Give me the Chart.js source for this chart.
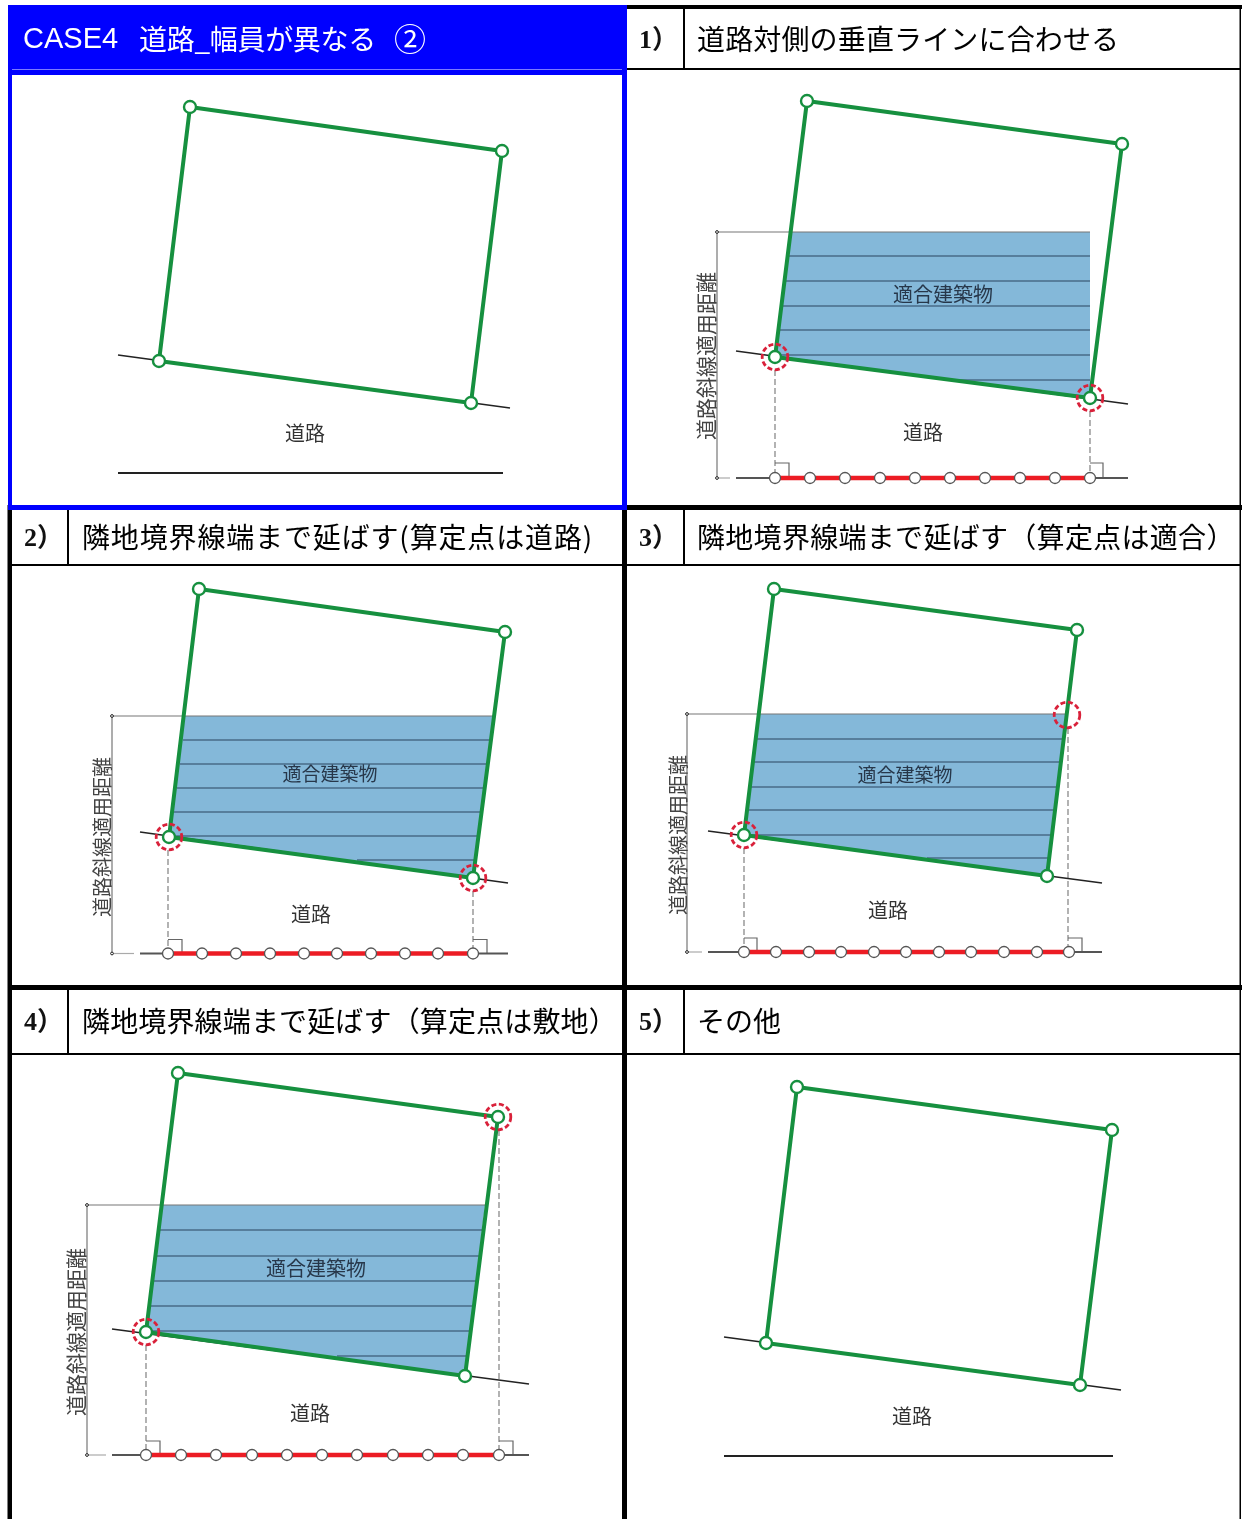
<!DOCTYPE html>
<html lang="ja">
<head>
<meta charset="utf-8">
<title>CASE4 道路_幅員が異なる ②</title>
<script src="https://cdn.jsdelivr.net/npm/chart.js@4"></script>
<style>
  html, body { margin: 0; padding: 0; background: #fff; }
  #wrap { position: relative; width: 1242px; height: 1519px; overflow: hidden; }
  canvas { display: block; }
</style>
</head>
<body>
<div id="wrap"><canvas id="sheet" width="1242" height="1519"></canvas></div>
<script>
const caseTitle = ['CASE4', '道路_幅員が異なる', '②'];
const titles = ['道路対側の垂直ラインに合わせる', '隣地境界線端まで延ばす(算定点は道路)',
  '隣地境界線端まで延ばす（算定点は適合）', '隣地境界線端まで延ばす（算定点は敷地）', 'その他'];
const numbers = ['1）', '2）', '3）', '4）', '5）'];
const roadLabel = '道路';
const buildingLabel = '適合建築物';
const distanceLabel = '道路斜線適用距離';

// site outlines
const site0 = [[190, 107], [502, 151], [471, 403], [159, 361]];
const site1 = [[807, 101], [1122, 144], [1090, 398], [775, 357]];
const site2 = [[199, 589], [505, 632], [473, 878], [169, 837]];
const site3 = [[774, 589], [1077, 630], [1047, 876], [744, 835]];
const site4 = [[178, 1073], [498, 1117], [465, 1376], [146, 1332]];
const site5 = [[797, 1087], [1112, 1130], [1080, 1385], [766, 1343]];

// slanted road edge
const slant0 = [[118, 355], [510, 408]];
const slant1 = [[736, 351], [1128, 404]];
const slant2 = [[140, 832], [508, 883]];
const slant3 = [[708, 831], [1102, 883]];
const slant4 = [[112, 1329], [529, 1384]];
const slant5 = [[724, 1337], [1121, 1390]];

// far side of the road
const farRoad0 = [[118, 473], [503, 473]];
const farRoad1 = [[736, 478], [1128, 478]];
const farRoad2 = [[140, 953.5], [508, 953.5]];
const farRoad3 = [[708, 952], [1102, 952]];
const farRoad4 = [[112, 1455], [529, 1455]];
const farRoad5 = [[724, 1456], [1113, 1456]];

// compliant building outline
const building1 = [[790, 232], [1090, 232], [1090, 398], [775, 357]];
const building2 = [[185, 716], [493, 716], [473, 878], [169, 837]];
const building3 = [[760, 714], [1067, 714], [1047, 876], [744, 835]];
const building4 = [[162, 1205], [485, 1205], [465, 1376], [146, 1332]];

// building floors as [left, right, y]
const floors1 = [[788, 1090, 256], [785, 1090, 281], [781, 1090, 306], [778, 1090, 330], [778, 1090, 355], [951, 1090, 380]];
const floors2 = [[183, 490, 740], [180, 487, 764], [177, 484, 788], [174, 481, 812], [171, 478, 836], [357, 475, 860]];
const floors3 = [[757, 1064, 739], [754, 1061, 762], [751, 1058, 787], [748, 1055, 810], [746, 1052, 835], [927, 1049, 858]];
const floors4 = [[159, 482, 1230], [156, 479, 1256], [153, 476, 1281], [150, 473, 1306], [148, 470, 1331], [337, 467, 1356]];

// measuring points along the far road
const marks1 = [775, 810, 845, 880, 915, 950, 985, 1020, 1055, 1090];
const marks2 = [168, 202, 236, 270, 304, 337, 371, 405, 438, 473];
const marks3 = [744, 776, 809, 841, 874, 906, 939, 971, 1004, 1037, 1069];
const marks4 = [146, 181, 216, 252, 287, 322, 357, 393, 428, 463, 499];

// calculation points (red dashed rings)
const rings1 = [[775, 357], [1090, 398]];
const rings2 = [[169, 837], [473, 878]];
const rings3 = [[744, 835], [1067, 715]];
const rings4 = [[146, 1332], [498, 1117]];

// dashed perpendiculars
const drops1 = [[775, 370, 478], [1090, 411, 478]];
const drops2 = [[168, 850, 953], [473, 891, 953]];
const drops3 = [[744, 848, 952], [1068, 728, 952]];
const drops4 = [[146, 1345, 1455], [499, 1130, 1455]];

const BLUE = '#0000ff', BLACK = '#000000', GREEN = '#16903f', RED = '#ec1c24', SKY = '#84b8d9';
const FLOOR = '#2a4560', LEADER = '#777777', ROAD = '#222222';
const GOTHIC = '"Noto Sans CJK JP", "Liberation Sans", sans-serif';

const pts = list => list.map(p => ({ x: p[0], y: p[1] }));
const closed = list => pts(list.concat([list[0]]));
const segment = (data, color, width, extra) => ({ data, borderColor: color, borderWidth: width, showLine: true, pointRadius: 0, fill: false, ...extra });
const box = (x0, y0, x1, y1, color) => segment(closed([[x0, y0], [x1, y0], [x1, y1], [x0, y1]]), color, 0, { backgroundColor: color, fill: 'shape' });
const dots = (data, border, radius, width) => ({ data, showLine: false, pointRadius: radius, pointBorderWidth: width, pointBorderColor: border, pointBackgroundColor: '#ffffff' });

// dashed ring sprite, Chart.js points have no dash of their own
function ringSprite() {
  const c = document.createElement('canvas');
  c.width = c.height = 32;
  const ctx = c.getContext('2d');
  ctx.strokeStyle = '#d9213a';
  ctx.lineWidth = 2.8;
  ctx.setLineDash([5, 2.6]);
  ctx.beginPath();
  ctx.arc(16, 16, 12.8, 0, Math.PI * 2);
  ctx.stroke();
  return c;
}
const ring = ringSprite();

const panels = [
  { site: site0, slant: slant0, far: farRoad0, road: [305, 433] },
  { site: site1, slant: slant1, far: farRoad1, road: [923, 432], building: building1, floors: floors1, marks: marks1, rings: rings1, drops: drops1,
    ticks: [[775, 789], [1090, 1103]], tickH: 15, leaderX: 717, tag: [943, 294], tagSize: 20, side: [706, 356], sideSize: 21 },
  { site: site2, slant: slant2, far: farRoad2, road: [311, 914], building: building2, floors: floors2, marks: marks2, rings: rings2, drops: drops2,
    ticks: [[168, 182], [473, 487]], tickH: 14, leaderX: 112, tag: [330, 774], tagSize: 19, side: [102, 837], sideSize: 20 },
  { site: site3, slant: slant3, far: farRoad3, road: [888, 910], building: building3, floors: floors3, marks: marks3, rings: rings3, drops: drops3,
    ticks: [[744, 757], [1068, 1082]], tickH: 14, leaderX: 687, tag: [905, 775], tagSize: 19, side: [678, 835], sideSize: 20 },
  { site: site4, slant: slant4, far: farRoad4, road: [310, 1413], building: building4, floors: floors4, marks: marks4, rings: rings4, drops: drops4,
    ticks: [[146, 160], [499, 513]], tickH: 14, leaderX: 87, tag: [316, 1268], tagSize: 20, side: [76, 1332], sideSize: 21 },
  { site: site5, slant: slant5, far: farRoad5, road: [912, 1416] }
];

const datasets = [];

// table frame
datasets.push(box(623, 5, 1242, 9, BLACK));
datasets.push(box(8, 505, 1242, 510, BLACK));
datasets.push(box(8, 985, 1242, 990, BLACK));
datasets.push(box(7.5, 505, 12, 1519, BLACK));
datasets.push(box(622, 5, 627, 1519, BLACK));
datasets.push(box(1239.5, 5, 1241, 1519, BLACK));
[[627, 1241, 69], [12, 622, 565], [627, 1241, 565], [12, 622, 1054], [627, 1241, 1054]].forEach(r => datasets.push(box(r[0], r[2] - 1, r[1], r[2] + 1, BLACK)));
[[684, 9, 69], [68, 510, 565], [684, 510, 565], [68, 990, 1054], [684, 990, 1054]].forEach(r => datasets.push(box(r[0] - 1, r[1], r[0] + 1, r[2], BLACK)));

// blue highlighted first cell
datasets.push(box(8, 5, 627, 75, BLUE));
datasets.push(box(8, 5, 12, 510, BLUE));
datasets.push(box(622, 5, 627, 510, BLUE));
datasets.push(box(8, 505, 627, 510, BLUE));
datasets.push(box(12, 69, 622, 70, '#7b7bff'));

panels.forEach(p => {
  if (p.building) {
    datasets.push(segment(closed(p.building), SKY, 0, { backgroundColor: SKY, fill: 'shape' }));
    p.floors.forEach(f => datasets.push(segment(pts([[f[0], f[2]], [f[1], f[2]]]), FLOOR, 1.2)));
    const top = p.building[0][1];
    const farY = p.far[0][1];
    datasets.push(segment(pts([[p.leaderX, top], [p.building[1][0], top]]), LEADER, 1.2));
    datasets.push(segment(pts([[p.leaderX, top], [p.leaderX, farY]]), LEADER, 1.2));
    datasets.push(segment(pts([[p.leaderX, farY], [p.far[0][0] - 6, farY]]), '#aaaaaa', 1.2));
    datasets.push(dots(pts([[p.leaderX, top], [p.leaderX, farY]]), '#222222', 1.4, 1));
    p.drops.forEach(d => datasets.push(segment(pts([[d[0], d[1]], [d[0], d[2]]]), '#808080', 1.2, { borderDash: [6, 3] })));
    p.ticks.forEach(t => datasets.push(segment(pts([[t[0], p.far[0][1] - p.tickH], [t[1], p.far[0][1] - p.tickH], [t[1], p.far[0][1]]]), '#666666', 1.2)));
  }
  datasets.push(segment(pts(p.slant), ROAD, 1.6));
  datasets.push(segment(pts(p.far), p.marks ? '#555555' : ROAD, p.marks ? 2.2 : 1.8));
  if (p.marks) {
    const y = p.far[0][1];
    datasets.push(segment(pts([[p.marks[0], y], [p.marks[p.marks.length - 1], y]]), RED, 4.5));
    datasets.push(dots(pts(p.marks.map(x => [x, y])), '#555555', 5.5, 1.3));
  }
  datasets.push(segment(closed(p.site), GREEN, 4));
  datasets.push(dots(pts(p.site), GREEN, 6, 2.4));
  if (p.rings) datasets.push({ data: pts(p.rings), showLine: false, pointStyle: ring, pointRadius: 16 });
});

// first dataset is painted last, so flip the paint order
datasets.reverse();

const writing = {
  id: 'writing',
  afterDatasetsDraw(chart) {
    const { ctx, scales } = chart;
    const put = (text, x, y, font, color, align, turn, spacing) => {
      ctx.save();
      ctx.translate(scales.x.getPixelForValue(x), scales.y.getPixelForValue(y));
      if (turn) ctx.rotate(-Math.PI / 2);
      ctx.font = font;
      ctx.fillStyle = color;
      ctx.textAlign = align;
      ctx.textBaseline = 'middle';
      ctx.letterSpacing = (spacing || 0) + 'px';
      ctx.fillText(text, 0, 0);
      ctx.restore();
    };
    put(caseTitle[0], 23, 40, '29px "Liberation Sans", sans-serif', '#ffffff', 'left');
    put(caseTitle[1], 139, 39, '28px ' + GOTHIC, '#ffffff', 'left', false, -0.3);
    put(caseTitle[2], 394, 39, '32px ' + GOTHIC, '#ffffff', 'left');
    const heads = [[697, 39], [82, 537], [697, 537], [82, 1021], [697, 1021]];
    const spacing = [0.15, 0.85, 0.3, 0.15, 0];
    heads.forEach((h, i) => {
      put(titles[i], h[0], h[1], '28px ' + GOTHIC, '#000000', 'left', false, spacing[i]);
      put(numbers[i], h[0] - 58, h[1] + 2, 'bold 26px "Liberation Serif", ' + GOTHIC, '#111111', 'left');
    });
    panels.forEach(p => {
      put(roadLabel, p.road[0], p.road[1], '20px ' + GOTHIC, '#333333', 'center');
      if (p.tag) put(buildingLabel, p.tag[0], p.tag[1], p.tagSize + 'px ' + GOTHIC, '#27374a', 'center');
      if (p.side) put(distanceLabel, p.side[0], p.side[1], p.sideSize + 'px ' + GOTHIC, '#444444', 'center', true);
    });
  }
};

new Chart(document.getElementById('sheet'), {
  type: 'scatter',
  data: { datasets },
  plugins: [writing],
  options: {
    responsive: false,
    animation: false,
    devicePixelRatio: 1,
    layout: { padding: 0, autoPadding: false },
    clip: false,
    plugins: { legend: { display: false }, tooltip: { enabled: false } },
    scales: {
      x: { type: 'linear', min: 0, max: 1242, display: false },
      y: { type: 'linear', min: 0, max: 1519, reverse: true, display: false }
    }
  }
});
</script>
</body>
</html>
